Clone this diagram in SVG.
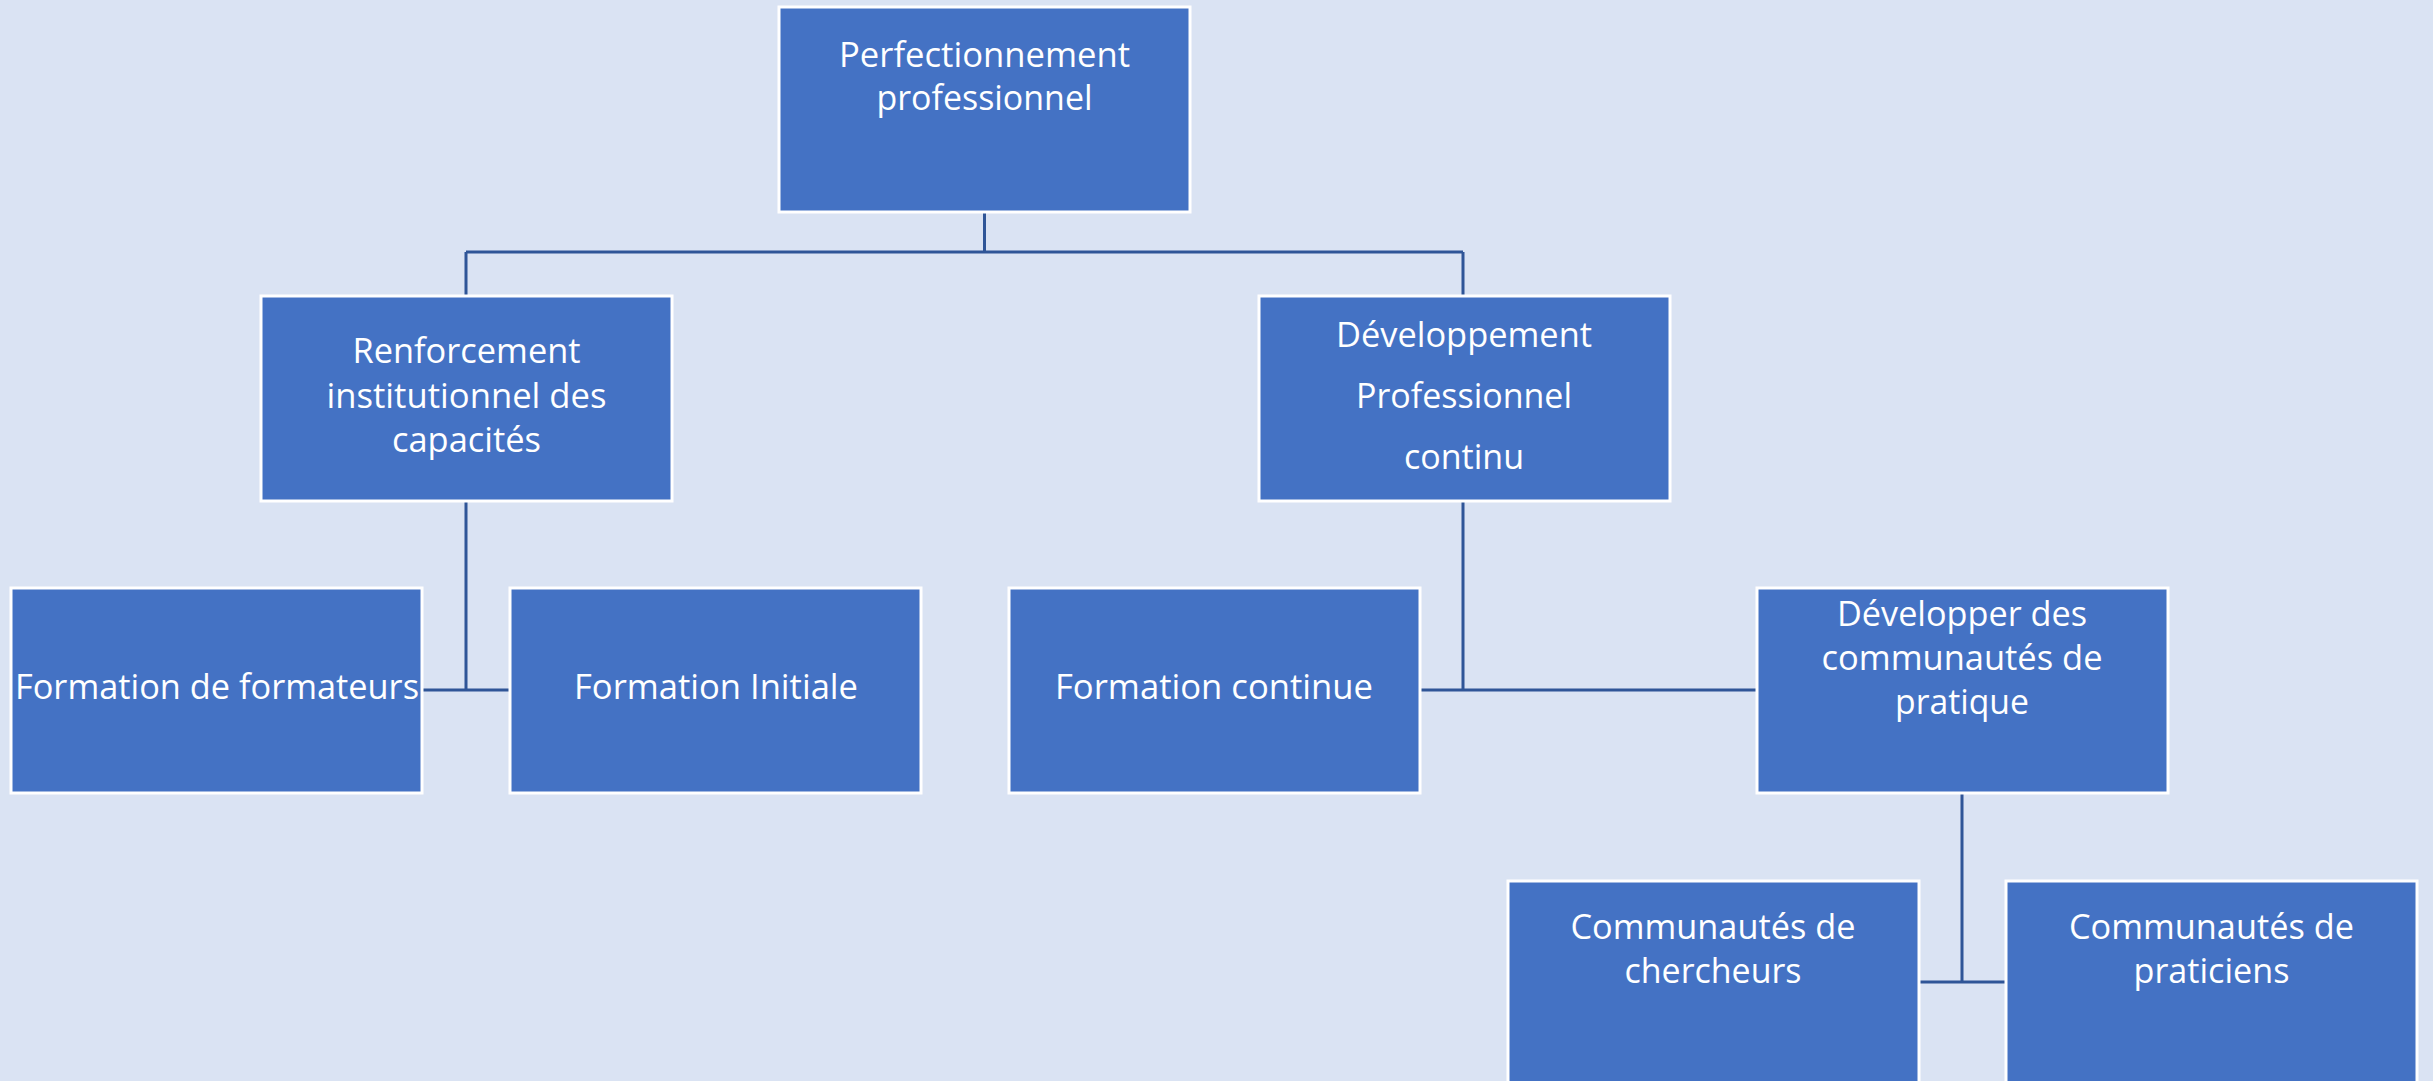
<svg xmlns="http://www.w3.org/2000/svg" width="2433" height="1081" viewBox="0 0 2433 1081">
<style>
.box{fill:#4472C4;stroke:#FFFFFF;stroke-width:3}
.lbl{font-family:"Open Sans","Noto Sans","Liberation Sans",sans-serif;font-size:34px;fill:#FFFFFF;text-anchor:middle}
.conn{fill:none;stroke:#2F5597;stroke-width:3}
</style>
<rect x="0" y="0" width="2433" height="1081" fill="#DAE3F3"/>
<g id="connectors">
<path class="conn" d="M984.5,212 V252 M466,252 H1463 M466,252 V296 M1463,252 V296"/>
<path class="conn" d="M466,501 V690 M422,690 H510"/>
<path class="conn" d="M1463,501 V690 M1421,690 H1757"/>
<path class="conn" d="M1962,793 V982 M1919,982 H2006"/>
</g>
<g id="n-perfectionnement">
<rect class="box" x="779" y="7" width="411" height="205"/>
<text class="lbl" x="984.5" y="67" textLength="291" lengthAdjust="spacingAndGlyphs">Perfectionnement</text>
<text class="lbl" x="984.5" y="110" textLength="216" lengthAdjust="spacingAndGlyphs">professionnel</text>
</g>
<g id="n-renforcement">
<rect class="box" x="261" y="296" width="411" height="205"/>
<text class="lbl" x="466.5" y="363" textLength="228" lengthAdjust="spacingAndGlyphs">Renforcement</text>
<text class="lbl" x="466.5" y="408" textLength="280" lengthAdjust="spacingAndGlyphs">institutionnel des</text>
<text class="lbl" x="466.5" y="452" textLength="149" lengthAdjust="spacingAndGlyphs">capacités</text>
</g>
<g id="n-developpement">
<rect class="box" x="1259" y="296" width="411" height="205"/>
<text class="lbl" x="1464" y="347" textLength="256" lengthAdjust="spacingAndGlyphs">Développement</text>
<text class="lbl" x="1464" y="408" textLength="216" lengthAdjust="spacingAndGlyphs">Professionnel</text>
<text class="lbl" x="1464" y="469" textLength="120" lengthAdjust="spacingAndGlyphs">continu</text>
</g>
<g id="n-formateurs">
<rect class="box" x="11" y="588" width="411" height="205"/>
<text class="lbl" x="217" y="699" textLength="404" lengthAdjust="spacingAndGlyphs">Formation de formateurs</text>
</g>
<g id="n-initiale">
<rect class="box" x="510" y="588" width="411" height="205"/>
<text class="lbl" x="716" y="699" textLength="284" lengthAdjust="spacingAndGlyphs">Formation Initiale</text>
</g>
<g id="n-continue">
<rect class="box" x="1009" y="588" width="411" height="205"/>
<text class="lbl" x="1214" y="699" textLength="318" lengthAdjust="spacingAndGlyphs">Formation continue</text>
</g>
<g id="n-communautes-pratique">
<rect class="box" x="1757" y="588" width="411" height="205"/>
<text class="lbl" x="1962" y="626" textLength="250" lengthAdjust="spacingAndGlyphs">Développer des</text>
<text class="lbl" x="1962" y="670" textLength="281" lengthAdjust="spacingAndGlyphs">communautés de</text>
<text class="lbl" x="1962" y="714" textLength="134" lengthAdjust="spacingAndGlyphs">pratique</text>
</g>
<g id="n-chercheurs">
<rect class="box" x="1508" y="881" width="411" height="205"/>
<text class="lbl" x="1713" y="939" textLength="285" lengthAdjust="spacingAndGlyphs">Communautés de</text>
<text class="lbl" x="1713" y="983" textLength="177" lengthAdjust="spacingAndGlyphs">chercheurs</text>
</g>
<g id="n-praticiens">
<rect class="box" x="2006" y="881" width="411" height="205"/>
<text class="lbl" x="2211.5" y="939" textLength="285" lengthAdjust="spacingAndGlyphs">Communautés de</text>
<text class="lbl" x="2211.5" y="983" textLength="156" lengthAdjust="spacingAndGlyphs">praticiens</text>
</g>
</svg>
